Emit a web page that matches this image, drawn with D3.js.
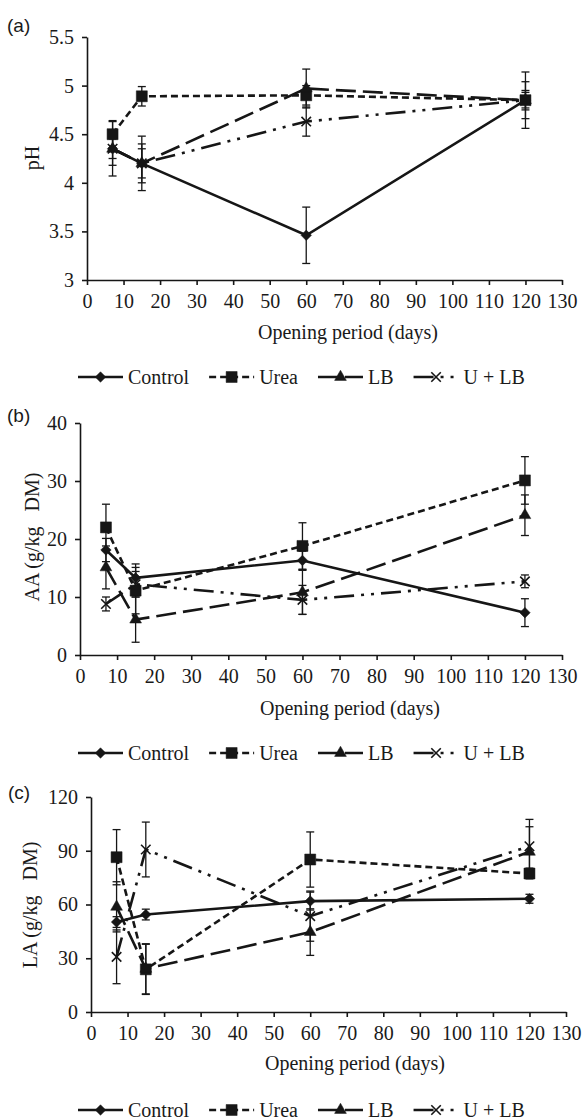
<!DOCTYPE html>
<html>
<head>
<meta charset="utf-8">
<script src="https://cdn.jsdelivr.net/npm/d3@7"></script>
<style>
  body { margin: 0; background: #fff; }
  svg text { font-family: "Liberation Serif", "Times New Roman", serif; fill: #1a1a1a; }
  svg text.tag { font-family: "Liberation Sans", Arial, sans-serif; }
</style>
</head>
<body>
<svg id="chart" width="583" height="1120"></svg>
<script>
const days = [7, 15, 60, 120]
const seriesNames = ['Control', 'Urea', 'LB', 'U + LB']
const xTicks = d3.range(0, 131, 10)

// (a) pH
const phControl = [4.35, 4.2, 3.46, 4.85]
const phUrea = [4.5, 4.89, 4.9, 4.85]
const phLB = [4.35, 4.2, 4.97, 4.85]
const phULB = [4.35, 4.2, 4.63, 4.85]
const phControlErr = [0.17, 0.28, 0.29, 0.29]
const phUreaErr = [0.14, 0.1, 0.1, 0.08]
const phLBErr = [0.28, 0.2, 0.2, 0.19]
const phULBErr = [0.1, 0.15, 0.15, 0.1]
const phTicks = [3, 3.5, 4, 4.5, 5, 5.5]

// (b) AA
const aaControl = [18.1, 13.3, 16.3, 7.3]
const aaUrea = [22, 11.1, 18.8, 30.1]
const aaLB = [15.1, 6.1, 10.8, 24.1]
const aaULB = [8.8, 12.2, 9.5, 12.7]
const aaControlErr = [2.0, 2.4, 1.6, 2.4]
const aaUreaErr = [4.0, 4.0, 4.0, 4.1]
const aaLBErr = [3.7, 3.9, 3.8, 3.5]
const aaULBErr = [1.2, 2.2, 2.5, 1.1]
const aaTicks = [0, 10, 20, 30, 40]

// (c) LA
const laControl = [50.2, 54.4, 61.9, 63.2]
const laUrea = [86.4, 23.8, 85.1, 77.3]
const laLB = [58.7, 24.1, 44.6, 89.4]
const laULB = [30.8, 90.7, 53.5, 92.5]
const laControlErr = [3, 3, 5, 2.5]
const laUreaErr = [15.4, 14, 15.4, 3]
const laLBErr = [14, 14, 13, 14]
const laULBErr = [15, 15.3, 14, 15]
const laTicks = [0, 30, 60, 90, 120]

const ink = '#161616'
const serif = '"Liberation Serif", "Times New Roman", serif'
const svg = d3.select('#chart')

// custom marker shapes (Excel style)
const diamondSym = {
  draw(ctx, size) {
    let r = Math.sqrt(size) / 2
    ctx.moveTo(0, -r); ctx.lineTo(r, 0); ctx.lineTo(0, r); ctx.lineTo(-r, 0); ctx.closePath()
  }
}
const timesSym = {
  draw(ctx, size) {
    let r = Math.sqrt(size) / 2
    ctx.moveTo(-r, -r); ctx.lineTo(r, r); ctx.moveTo(r, -r); ctx.lineTo(-r, r)
  }
}
const looks = [
  { dash: null, type: diamondSym, size: 110, stroke: false },
  { dash: '7,4', type: d3.symbolSquare, size: 121, stroke: false },
  { dash: '20,7', type: d3.symbolTriangle, size: 60, stroke: false },
  { dash: '20,7,3,7,3,7', type: timesSym, size: 90, stroke: true },
]

function marker(g, i, x, y) {
  let lk = looks[i]
  g.append('path')
    .attr('transform', `translate(${x},${y})`)
    .attr('d', d3.symbol().type(lk.type).size(lk.size)())
    .attr('fill', lk.stroke ? 'none' : ink)
    .attr('stroke', ink)
    .attr('stroke-width', lk.stroke ? 1.6 : 0.5)
}

function drawPanel(p) {
  let x = d3.scaleLinear().domain([0, 130]).range([p.x0, p.x1])
  let y = d3.scaleLinear().domain(p.yDomain).range([p.yBot, p.yTop])
  let g = svg.append('g')

  let gx = g.append('g')
    .attr('transform', `translate(0,${p.yBot})`)
    .call(d3.axisBottom(x).tickValues(xTicks).tickSize(5).tickSizeOuter(0).tickPadding(9))
  let gy = g.append('g')
    .attr('transform', `translate(${p.x0},0)`)
    .call(d3.axisLeft(y).tickValues(p.yTicks).tickSize(5).tickSizeOuter(0).tickPadding(8)
      .tickFormat(d => String(d)))
  ;[gx, gy].forEach(a => {
    a.attr('font-size', 20).attr('font-family', serif)
    a.selectAll('text').style('font-family', serif).attr('fill', '#1a1a1a')
    a.selectAll('path.domain').attr('stroke', ink).attr('stroke-width', 1.6)
    a.selectAll('.tick line').attr('stroke', ink).attr('stroke-width', 1.6)
  })

  // error bars
  p.series.forEach((vals, si) => {
    let eg = g.append('g')
    vals.forEach((v, k) => {
      let e = p.errs[si][k]
      let cx = x(days[k])
      eg.append('line').attr('x1', cx).attr('x2', cx)
        .attr('y1', y(v - e)).attr('y2', y(v + e))
      ;[v - e, v + e].forEach(w => {
        eg.append('line').attr('x1', cx - 4).attr('x2', cx + 4)
          .attr('y1', y(w)).attr('y2', y(w))
      })
    })
    eg.selectAll('line').attr('stroke', ink).attr('stroke-width', 1.3)
  })

  // lines
  let line = d3.line().x((d, k) => x(days[k])).y(d => y(d))
  p.series.forEach((vals, si) => {
    g.append('path')
      .attr('d', line(vals))
      .attr('fill', 'none')
      .attr('stroke', ink)
      .attr('stroke-width', 2.6)
      .attr('stroke-dasharray', looks[si].dash)
  })

  // markers
  p.series.forEach((vals, si) => {
    vals.forEach((v, k) => marker(g, si, x(days[k]), y(v)))
  })

  // labels
  g.append('text').attr('class', 'tag')
    .attr('x', p.tagX).attr('y', p.tagY)
    .attr('dominant-baseline', 'central')
    .attr('font-size', 19)
    .text(p.tag)
  g.append('text')
    .attr('transform', `translate(${p.ylabelX},${p.ylabelY}) rotate(-90)`)
    .attr('text-anchor', 'middle')
    .attr('dominant-baseline', 'central')
    .attr('font-size', 20)
    .style('white-space', 'pre')
    .text(p.ylabel)
  g.append('text')
    .attr('x', p.titleX).attr('y', p.titleY)
    .attr('text-anchor', 'middle')
    .attr('dominant-baseline', 'central')
    .attr('font-size', 20)
    .text('Opening period (days)')

  drawLegend(p.legendY)
}

function drawLegend(ly) {
  let lg = svg.append('g')
  let cx = 78
  seriesNames.forEach((name, i) => {
    let item = lg.append('g').attr('transform', `translate(${cx},${ly})`)
    item.append('line')
      .attr('x1', 0).attr('x2', 45).attr('y1', 0).attr('y2', 0)
      .attr('stroke', ink).attr('stroke-width', 2.6)
      .attr('stroke-dasharray', looks[i].dash)
    marker(item, i, 22.5, 0)
    let t = item.append('text')
      .attr('x', 50).attr('y', 0)
      .attr('dominant-baseline', 'central')
      .attr('font-size', 20)
      .style('white-space', 'pre')
      .text(name)
    cx += 50 + t.node().getComputedTextLength() + 20
  })
}

drawPanel({
  x0: 87, x1: 562, yTop: 37, yBot: 280, yDomain: [3, 5.5], yTicks: phTicks,
  series: [phControl, phUrea, phLB, phULB],
  errs: [phControlErr, phUreaErr, phLBErr, phULBErr],
  tag: '(a)', tagX: 7, tagY: 25,
  ylabel: 'pH', ylabelX: 32, ylabelY: 158,
  titleX: 348, titleY: 332, legendY: 377
})
drawPanel({
  x0: 80, x1: 562, yTop: 423, yBot: 655, yDomain: [0, 40], yTicks: aaTicks,
  series: [aaControl, aaUrea, aaLB, aaULB],
  errs: [aaControlErr, aaUreaErr, aaLBErr, aaULBErr],
  tag: '(b)', tagX: 7, tagY: 415,
  ylabel: 'AA (g/kg   DM)', ylabelX: 32, ylabelY: 537,
  titleX: 350, titleY: 708, legendY: 753
})
drawPanel({
  x0: 91, x1: 566, yTop: 797, yBot: 1012, yDomain: [0, 120], yTicks: laTicks,
  series: [laControl, laUrea, laLB, laULB],
  errs: [laControlErr, laUreaErr, laLBErr, laULBErr],
  tag: '(c)', tagX: 8, tagY: 792,
  ylabel: 'LA (g/kg   DM)', ylabelX: 30, ylabelY: 905,
  titleX: 355, titleY: 1063, legendY: 1110
})
</script>
</body>
</html>
